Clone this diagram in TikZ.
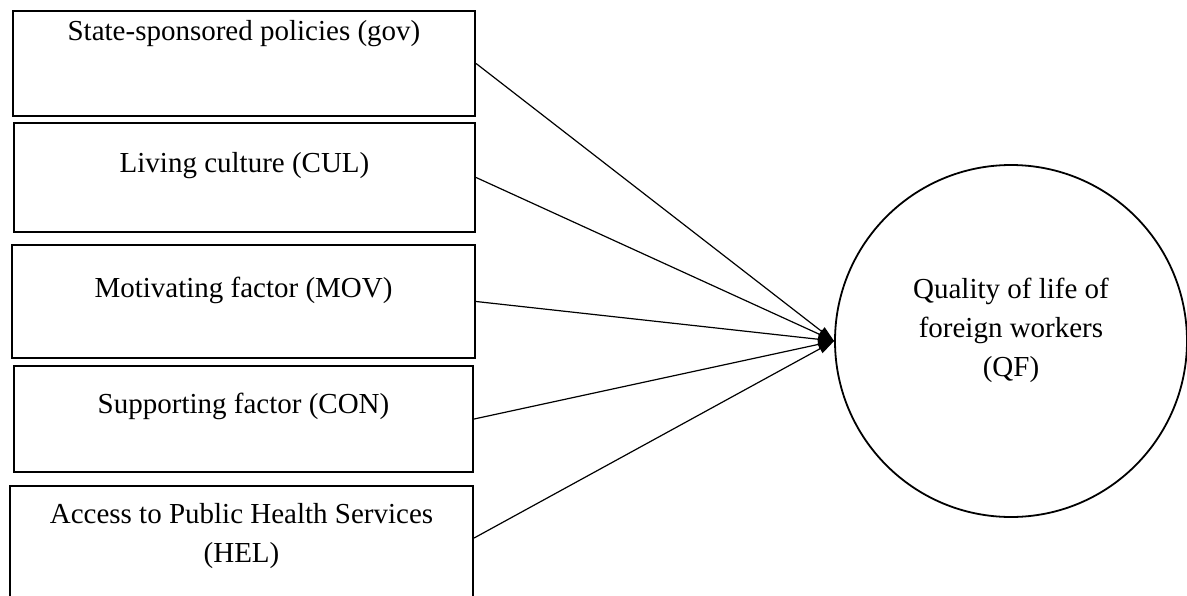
\documentclass[tikz,border=0pt]{standalone}
\usepackage{fontspec}
\setmainfont{Liberation Serif}
\usetikzlibrary{arrows.meta}
\begin{document}
\begin{tikzpicture}[x=1pt,y=-1pt,
  txt/.style={font=\fontsize{29}{39}\selectfont},
  factor/.style={txt, draw, line width=2.2pt, rectangle, inner sep=0pt},
  latent/.style={txt, draw, circle, line width=1.8pt, minimum size=352pt, inner sep=0pt},
  link/.style={line width=1.2pt, -{Triangle[length=16pt,width=10pt]}}]
\useasboundingbox (0,0) rectangle (1187,595);
\clip (0,0) rectangle (1187,595);
\node[factor, minimum width=462pt, minimum height=105pt, text height=29pt, text depth=76pt] (gov) at (244,63.5) {State-sponsored policies (gov)};
\node[factor, minimum width=461pt, minimum height=109pt, text height=49pt, text depth=60pt] (cul) at (244.5,177.5) {Living culture (CUL)};
\node[factor, minimum width=463pt, minimum height=113pt, text height=52pt, text depth=61pt] (mov) at (243.5,301.5) {Motivating factor (MOV)};
\node[factor, minimum width=459pt, minimum height=106pt, text height=47pt, text depth=59pt] (con) at (243.5,419) {Supporting factor (CON)};
\node[factor, minimum width=463pt, minimum height=119pt, text height=37pt, text depth=82pt] (hel) at (241.5,545.5) {\begin{tabular}[t]{@{}c@{}}Access to Public Health Services\\(HEL)\end{tabular}};
\node[latent, text height=20pt, text depth=106pt] (qf) at (1011,341) {\begin{tabular}[t]{@{}c@{}}Quality of life of\\foreign workers\\(QF)\end{tabular}};
\draw[link] (gov.east) -- (qf.west);
\draw[link] (cul.east) -- (qf.west);
\draw[link] (mov.east) -- (qf.west);
\draw[link] (con.east) -- (qf.west);
\draw[link] ([yshift=7.5pt]hel.east) -- (qf.west);
\end{tikzpicture}
\end{document}
